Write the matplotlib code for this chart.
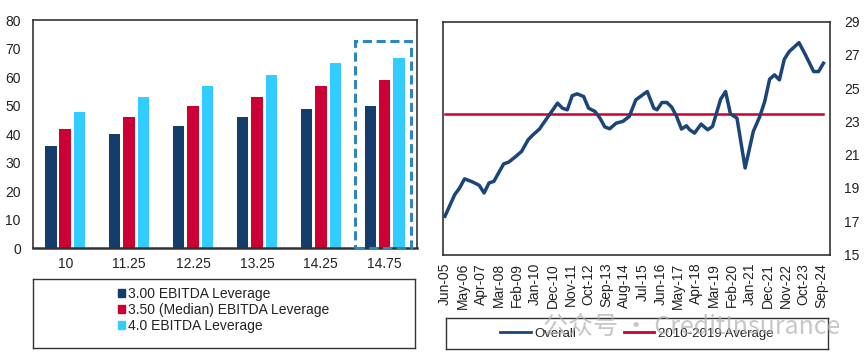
import numpy as np
import matplotlib.pyplot as plt
from matplotlib.patches import Rectangle, Patch
from matplotlib.lines import Line2D

plt.rcParams['font.family'] = ['Liberation Sans', 'DejaVu Sans']

# left panel: spread vs leverage
groups = ['10', '11.25', '12.25', '13.25', '14.25', '14.75']
lev_300 = [35.8, 40.0, 43.0, 46.1, 48.7, 49.8]
lev_350 = [42.0, 46.1, 49.8, 52.9, 57.0, 59.1]
lev_400 = [47.7, 52.9, 57.0, 60.6, 64.8, 66.8]
series_names = ['3.00 EBITDA Leverage', '3.50 (Median) EBITDA Leverage', '4.0 EBITDA Leverage']

# right panel: monthly series, index 0 = Jun-05
month_idx = [0, 6, 9, 12, 17, 21, 24, 27, 30, 36, 39, 43, 47, 51, 54, 58, 59, 64,
             69, 72, 75, 78, 81, 85, 88, 92, 95, 98, 101, 105, 109, 113, 117, 124,
             128, 130, 133, 136, 139, 142, 145, 148, 150, 153, 157, 161, 164, 169,
             172, 175, 179, 184, 189, 193, 196, 199, 202, 205, 208, 211, 217, 221,
             226, 229, 232]
overall = [17.3, 18.6, 19.0, 19.55, 19.36, 19.16, 18.7, 19.3, 19.4, 20.45, 20.55, 20.86,
           21.2, 21.9, 22.2, 22.55, 22.7, 23.4, 24.1, 23.8, 23.7, 24.55, 24.66, 24.5,
           23.8, 23.6, 23.2, 22.67, 22.56, 22.9, 23.0, 23.3, 24.3, 24.8, 23.8, 23.7,
           24.14, 24.14, 23.86, 23.3, 22.54, 22.74, 22.5, 22.3, 22.84, 22.5, 22.7,
           24.34, 24.8, 23.45, 23.2, 20.2, 22.4, 23.3, 24.2, 25.54, 25.8, 25.5, 26.74,
           27.2, 27.74, 27.0, 26.0, 26.0, 26.5]
avg_2010_2019 = 23.45
tick_labels = ['Jun-05', 'May-06', 'Apr-07', 'Mar-08', 'Feb-09', 'Jan-10', 'Dec-10',
               'Nov-11', 'Oct-12', 'Sep-13', 'Aug-14', 'Jul-15', 'Jun-16', 'May-17',
               'Apr-18', 'Mar-19', 'Feb-20', 'Jan-21', 'Dec-21', 'Nov-22', 'Oct-23',
               'Sep-24']

navy = '#143d6e'
red = '#cc0033'
cyan = '#33ccff'
txt = '#222222'

fig = plt.figure(figsize=(8.65, 3.61), dpi=100)

# ---- left bars
ax1 = fig.add_axes([0.0385, 0.312, 0.4432, 0.6324])
x = np.arange(len(groups))
w = 0.18
off = 0.226
ax1.bar(x - off, lev_300, w, color=navy)
ax1.bar(x, lev_350, w, color=red)
ax1.bar(x + off, lev_400, w, color=cyan)
ax1.add_patch(Rectangle((x[-1] - 0.47, 0), 0.88, 72.8, fill=False, ec='#2e86c1',
                        lw=2.2, ls=(0, (3, 1.5)), clip_on=False, zorder=5))
ax1.set_xlim(-0.5, 5.5)
ax1.set_ylim(0, 80)
ax1.set_yticks(range(0, 81, 10))
ax1.set_xticks(x)
ax1.set_xticklabels(groups)
ax1.tick_params(length=0, labelsize=10, colors=txt)
ax1.tick_params(axis='y', pad=9)
ax1.tick_params(axis='x', pad=6)
for s in ax1.spines.values():
    s.set_color('#333333')
    s.set_linewidth(1.2)
ax1.spines['bottom'].set_linewidth(1.8)

# left legend box
lg1 = fig.add_axes([0.038, 0.036, 0.4416, 0.19])
lg1.set_xticks([])
lg1.set_yticks([])
for s in lg1.spines.values():
    s.set_color('#333333')
    s.set_linewidth(1.0)
handles = [Patch(color=c) for c in (navy, red, cyan)]
lg1.legend(handles, series_names, loc='center', bbox_to_anchor=(0.5, 0.56),
           frameon=False, fontsize=10, handlelength=0.5, handleheight=0.5,
           handletextpad=0.25, labelspacing=0.15, labelcolor=txt)

# ---- right line
ax2 = fig.add_axes([0.5125, 0.295, 0.447, 0.645])
ax2.plot(month_idx, overall, color='#1b4579', lw=2.5, solid_joinstyle='round',
         label='Overall', zorder=3)
ax2.plot([month_idx[0], month_idx[-1]], [avg_2010_2019] * 2, color=red, lw=1.8,
         label='2010-2019 Average', zorder=2)
ax2.set_xlim(-1, 236)
ax2.set_ylim(15, 29)
ax2.set_yticks(range(15, 30, 2))
ax2.yaxis.tick_right()
ax2.set_xticks(range(0, 232, 11))
ax2.set_xticklabels(tick_labels, rotation=90)
ax2.tick_params(length=0, labelsize=10, colors=txt)
ax2.tick_params(axis='y', pad=10)
ax2.tick_params(axis='x', pad=6)
for s in ax2.spines.values():
    s.set_color('#333333')
    s.set_linewidth(1.2)

lg2 = fig.add_axes([0.5156, 0.033, 0.4416, 0.086])
lg2.set_xticks([])
lg2.set_yticks([])
for s in lg2.spines.values():
    s.set_color('#333333')
    s.set_linewidth(1.0)
lh = [Line2D([], [], color='#1b4579', lw=2), Line2D([], [], color=red, lw=2)]
lg2.legend(lh, ['Overall', '2010-2019 Average'], loc='center', ncol=2, frameon=False,
           fontsize=9.5, handlelength=2.3, handletextpad=0.3, columnspacing=3.6,
           labelcolor=txt)

# watermark
fig.text(0.80, 0.094, '公众号 · CreditInsurance', fontsize=18, color='#b0b0b0',
         alpha=0.7, ha='center', va='center', zorder=10,
         family=['Noto Sans CJK SC', 'DejaVu Sans'])

fig.savefig('out.png', dpi=100)
